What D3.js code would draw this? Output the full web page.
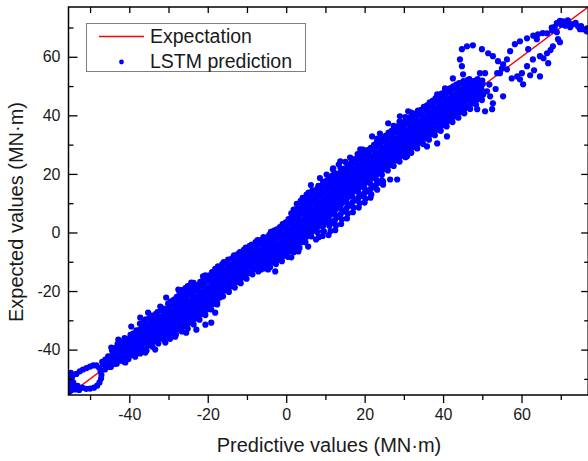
<!DOCTYPE html>
<html><head><meta charset="utf-8">
<script src="https://cdn.jsdelivr.net/npm/d3@7"></script>
<style>
html,body{margin:0;padding:0;background:#fff;}
svg text{font-family:"Liberation Sans",Arial,sans-serif;fill:#1a1a1a;}
</style></head>
<body>
<svg id="chart" width="588" height="461"></svg>
<script>
// ---- data ----
const xDomain = [-55.5, 77];
const yDomain = [-55.5, 77];
const xTickLabels = [-40, -20, 0, 20, 40, 60];
const yTickLabels = [-40, -20, 0, 20, 40, 60];
const minorTicks = [-50, -30, -10, 10, 30, 50, 70];
const expectationLine = [[-55.5, -55.5], [77, 77]];
const legendLabels = ["Expectation", "LSTM prediction"];
const xTitle = "Predictive values (MN·m)";
const yTitle = "Expected values (MN·m)";

// bottom-left loop
const loopLow = [[-55.3,-50.5],[-55.2,-52.2],[-55.0,-53.6],[-54.6,-49.4],[-54.3,-51.2],[-54.0,-52.8],[-53.5,-48.3],[-53.2,-52.4],[-52.6,-47.4],[-52.0,-53.0],[-51.8,-46.8],[-51.0,-53.4],[-50.9,-46.3],[-50.0,-45.8],[-50.0,-53.3],[-49.2,-45.4],[-49.0,-53.0],[-48.4,-45.4],[-48.2,-52.3],[-47.7,-46.2],[-47.6,-51.2],[-47.3,-47.5],[-47.2,-49.9],[-47.1,-48.7],[-55.4,-54.5],[-54.8,-53.9],[-53.8,-53.6],[-52.8,-53.8],[-55.1,-48.6],[-54.9,-47.9],[-46.6,-45.0],[-46.9,-44.2]];

// dense band, negative side
const bandLow = [
[-46.2,-46.8],[-45.8,-45.1],[-46.1,-43.4],
[-44.7,-45.9],[-44.3,-44.0],[-44.6,-42.2],[-44.4,-40.3],
[-43.2,-44.8],[-42.8,-43.1],[-43.1,-41.2],[-42.9,-39.6],[-43.0,-38.1],
[-41.4,-44.1],[-41.7,-42.3],[-41.3,-40.6],[-41.6,-38.9],[-41.5,-37.2],[-41.2,-36.1],
[-40.2,-43.2],[-39.8,-41.5],[-40.1,-39.6],[-39.9,-38.0],[-40.3,-36.4],[-39.7,-35.0],
[-38.6,-42.1],[-38.3,-40.2],[-38.7,-38.6],[-38.4,-36.9],[-38.5,-35.1],[-38.2,-33.4],
[-37.2,-41.3],[-36.8,-39.7],[-37.1,-37.8],[-36.9,-36.1],[-37.0,-34.3],[-36.7,-32.6],[-37.3,-31.2],
[-35.6,-40.3],[-35.3,-38.6],[-35.7,-36.9],[-35.4,-35.0],[-35.5,-33.3],[-35.2,-31.5],[-35.8,-29.7],
[-34.1,-39.0],[-33.8,-37.2],[-34.2,-35.5],[-33.9,-33.7],[-34.0,-32.0],[-33.7,-30.1],[-34.3,-28.4],
[-32.6,-37.9],[-32.3,-36.1],[-32.7,-34.4],[-32.4,-32.6],[-32.5,-30.9],[-32.2,-29.0],[-32.8,-27.2],
[-31.1,-36.8],[-30.8,-35.0],[-31.2,-33.2],[-30.9,-31.5],[-31.0,-29.6],[-30.7,-27.8],[-31.3,-26.0],
[-29.6,-36.3],[-29.3,-34.4],[-29.7,-32.6],[-29.4,-30.8],[-29.5,-29.0],[-29.2,-27.1],[-29.8,-25.3],[-29.4,-23.5],
[-28.1,-34.8],[-27.8,-33.0],[-28.2,-31.2],[-27.9,-29.4],[-28.0,-27.6],[-27.7,-25.7],[-28.3,-23.9],[-27.9,-22.0],
[-26.6,-33.8],[-26.3,-32.0],[-26.7,-30.1],[-26.4,-28.3],[-26.5,-26.5],[-26.2,-24.6],[-26.8,-22.8],[-26.4,-21.0],[-26.6,-19.7],
[-25.1,-32.8],[-24.8,-30.9],[-25.2,-29.1],[-24.9,-27.3],[-25.0,-25.4],[-24.7,-23.6],[-25.3,-21.8],[-24.9,-19.9],[-25.1,-18.3],
[-23.6,-31.4],[-23.3,-29.5],[-23.7,-27.7],[-23.4,-25.9],[-23.5,-24.0],[-23.2,-22.2],[-23.8,-20.4],[-23.4,-18.6],[-23.6,-17.2],
[-22.1,-29.8],[-21.8,-28.0],[-22.2,-26.1],[-21.9,-24.3],[-22.0,-22.5],[-21.7,-20.6],[-22.3,-18.8],[-21.9,-16.9],
[-20.6,-28.2],[-20.3,-26.4],[-20.7,-24.6],[-20.4,-22.7],[-20.5,-20.9],[-20.2,-19.1],[-20.8,-17.2],[-20.4,-15.4],[-20.6,-14.6],
[-19.1,-26.3],[-18.8,-24.5],[-19.2,-22.6],[-18.9,-20.8],[-19.0,-19.0],[-18.7,-17.1],[-19.3,-15.3],[-18.9,-13.5],
[-17.6,-23.8],[-17.3,-22.0],[-17.7,-20.1],[-17.4,-18.3],[-17.5,-16.5],[-17.2,-14.6],[-17.8,-12.8],[-17.4,-11.6],
[-16.1,-21.8],[-15.8,-19.9],[-16.2,-18.1],[-15.9,-16.3],[-16.0,-14.4],[-15.7,-12.6],[-16.3,-10.8],[-15.9,-10.1],
[-14.6,-20.3],[-14.3,-18.5],[-14.7,-16.6],[-14.4,-14.8],[-14.5,-13.0],[-14.2,-11.1],[-14.8,-9.3],
[-13.1,-18.8],[-12.8,-17.0],[-13.2,-15.1],[-12.9,-13.3],[-13.0,-11.5],[-12.7,-9.6],[-13.3,-7.8],
[-11.6,-17.3],[-11.3,-15.5],[-11.7,-13.6],[-11.4,-11.8],[-11.5,-10.0],[-11.2,-8.1],[-11.8,-6.7],
[-10.1,-15.8],[-9.8,-14.0],[-10.2,-12.1],[-9.9,-10.3],[-10.0,-8.5],[-9.7,-6.6],[-10.3,-5.2],
[-8.6,-14.3],[-8.3,-12.5],[-8.7,-10.6],[-8.4,-8.8],[-8.5,-7.0],[-8.2,-5.1],[-8.8,-4.1],
[-7.1,-13.3],[-6.8,-11.5],[-7.2,-9.6],[-6.9,-7.8],[-7.0,-6.0],[-6.7,-4.1],[-7.3,-2.6],
[-5.6,-12.3],[-5.3,-10.5],[-5.7,-8.6],[-5.4,-6.8],[-5.5,-5.0],[-5.2,-3.1],[-5.8,-1.6],
[-4.1,-11.8],[-3.8,-10.0],[-4.2,-8.1],[-3.9,-6.3],[-4.0,-4.5],[-3.7,-2.6],[-4.3,-0.8],[-3.9,0.2],
[-2.6,-10.8],[-2.3,-9.0],[-2.7,-7.1],[-2.4,-5.3],[-2.5,-3.5],[-2.2,-1.6],[-2.8,0.2],[-2.4,1.1],
[-1.1,-9.8],[-0.8,-8.0],[-1.2,-6.1],[-0.9,-4.3],[-1.0,-2.5],[-0.7,-0.6],[-1.3,1.2],[-0.9,2.9]
];

// dense band, positive side
const bandHigh = [
[0.4,-8.3],[0.7,-6.5],[0.3,-4.6],[0.6,-2.8],[0.5,-1.0],[0.8,0.9],[0.2,2.7],[0.6,4.6],
[1.9,-6.8],[2.2,-5.0],[1.8,-3.1],[2.1,-1.3],[2.0,0.5],[2.3,2.4],[1.7,4.2],[2.1,6.1],[1.9,7.8],
[3.4,-5.3],[3.7,-3.5],[3.3,-1.6],[3.6,0.2],[3.5,2.0],[3.8,3.9],[3.2,5.7],[3.6,7.6],[3.4,9.4],[3.7,10.8],
[4.9,-3.3],[5.2,-1.5],[4.8,0.4],[5.1,2.2],[5.0,4.0],[5.3,5.9],[4.7,7.7],[5.1,9.6],[4.9,11.4],[5.2,12.9],
[6.4,-1.3],[6.7,0.5],[6.3,2.4],[6.6,4.2],[6.5,6.0],[6.8,7.9],[6.2,9.7],[6.6,11.6],[6.4,13.4],[6.7,14.4],
[7.9,0.2],[8.2,2.0],[7.8,3.9],[8.1,5.7],[8.0,7.5],[8.3,9.4],[7.7,11.2],[8.1,13.1],[7.9,14.9],[8.2,15.9],
[9.4,2.2],[9.7,4.0],[9.3,5.9],[9.6,7.7],[9.5,9.5],[9.8,11.4],[9.2,13.2],[9.6,15.1],[9.4,17.3],
[10.9,4.2],[11.2,6.0],[10.8,7.9],[11.1,9.7],[11.0,11.5],[11.3,13.4],[10.7,15.2],[11.1,17.1],[10.9,18.8],
[12.4,6.2],[12.7,8.0],[12.3,9.9],[12.6,11.7],[12.5,13.5],[12.8,15.4],[12.2,17.2],[12.6,19.1],[12.4,20.3],
[13.9,8.2],[14.2,10.0],[13.8,11.9],[14.1,13.7],[14.0,15.5],[14.3,17.4],[13.7,19.2],[14.1,21.1],[13.9,21.9],
[15.4,10.2],[15.7,12.0],[15.3,13.9],[15.6,15.7],[15.5,17.5],[15.8,19.4],[15.2,21.2],[15.6,22.4],
[16.9,12.2],[17.2,14.0],[16.8,15.9],[17.1,17.7],[17.0,19.5],[17.3,21.4],[16.7,23.2],[17.1,24.0],
[18.4,13.7],[18.7,15.5],[18.3,17.4],[18.6,19.2],[18.5,21.0],[18.8,22.9],[18.2,24.7],[18.6,25.9],
[19.9,15.2],[20.2,17.0],[19.8,18.9],[20.1,20.7],[20.0,22.5],[20.3,24.4],[19.7,26.2],[20.1,27.0],
[21.4,16.7],[21.7,18.5],[21.3,20.4],[21.6,22.2],[21.5,24.0],[21.8,25.9],[21.2,27.7],[21.6,28.9],
[22.9,18.2],[23.2,20.0],[22.8,21.9],[23.1,23.7],[23.0,25.5],[23.3,27.4],[22.7,29.2],[23.1,30.9],
[24.4,19.7],[24.7,21.5],[24.3,23.4],[24.6,25.2],[24.5,27.0],[24.8,28.9],[24.2,30.7],[24.6,32.4],
[25.9,21.2],[26.2,23.0],[25.8,24.9],[26.1,26.7],[26.0,28.5],[26.3,30.4],[25.7,32.2],[26.1,34.1],
[27.4,22.7],[27.7,24.5],[27.3,26.4],[27.6,28.2],[27.5,30.0],[27.8,31.9],[27.2,33.7],[27.6,35.6],[27.4,36.4],
[28.9,24.2],[29.2,26.0],[28.8,27.9],[29.1,29.7],[29.0,31.5],[29.3,33.4],[28.7,35.2],[29.1,37.1],[28.9,37.9],
[30.4,25.7],[30.7,27.5],[30.3,29.4],[30.6,31.2],[30.5,33.0],[30.8,34.9],[30.2,36.7],[30.6,38.6],[30.4,39.4],
[31.9,27.2],[32.2,29.0],[31.8,30.9],[32.1,32.7],[32.0,34.5],[32.3,36.4],[31.7,38.2],[32.1,40.1],[31.9,40.9],
[33.4,28.7],[33.7,30.5],[33.3,32.4],[33.6,34.2],[33.5,36.0],[33.8,37.9],[33.2,39.7],[33.6,41.6],
[34.9,30.2],[35.2,32.0],[34.8,33.9],[35.1,35.7],[35.0,37.5],[35.3,39.4],[34.7,41.2],[35.1,42.9],
[36.4,31.7],[36.7,33.5],[36.3,35.4],[36.6,37.2],[36.5,39.0],[36.8,40.9],[36.2,42.7],[36.6,44.4],
[37.9,33.2],[38.2,35.0],[37.8,36.9],[38.1,38.7],[38.0,40.5],[38.3,42.4],[37.7,44.2],[38.1,45.9],
[39.4,34.7],[39.7,36.5],[39.3,38.4],[39.6,40.2],[39.5,42.0],[39.8,43.9],[39.2,45.7],[39.6,47.4],
[40.9,36.2],[41.2,38.0],[40.8,39.9],[41.1,41.7],[41.0,43.5],[41.3,45.4],[40.7,47.2],[41.1,48.9],
[42.4,37.7],[42.7,39.5],[42.3,41.4],[42.6,43.2],[42.5,45.0],[42.8,46.9],[42.2,48.7],[42.6,49.9],
[43.9,39.2],[44.2,41.0],[43.8,42.9],[44.1,44.7],[44.0,46.5],[44.3,48.4],[43.7,50.2],[44.1,51.0],
[45.4,40.7],[45.7,42.5],[45.3,44.4],[45.6,46.2],[45.5,48.0],[45.8,49.9],[45.2,51.7],
[46.9,42.2],[47.2,44.0],[46.8,45.9],[47.1,47.7],[47.0,49.5],[47.3,51.4],[46.7,52.4],
[48.4,43.7],[48.7,45.5],[48.3,47.4],[48.6,49.2],[48.5,51.0],[48.8,52.4],
[49.9,45.2],[50.2,47.0],[49.8,48.9],[50.1,50.7],[50.0,51.9]
];

// in-between points of the dense core
const bandFill = [
[-45.3,-45.9],[-45.1,-44.0],[-45.4,-42.3],
[-43.8,-44.9],[-43.6,-43.0],[-43.9,-41.2],[-43.7,-39.5],
[-42.2,-43.8],[-42.4,-42.0],[-42.1,-40.1],[-42.3,-38.3],
[-40.8,-42.6],[-40.6,-40.7],[-40.9,-38.9],[-40.7,-37.0],
[-39.3,-41.8],[-39.1,-40.0],[-39.4,-38.1],[-39.2,-36.3],[-39.0,-34.5],
[-37.8,-40.6],[-37.6,-38.8],[-37.9,-37.0],[-37.7,-35.1],[-37.5,-33.3],
[-36.3,-40.0],[-36.1,-37.9],[-36.4,-36.0],[-36.2,-34.2],[-36.0,-32.3],[-36.3,-30.6],
[-34.8,-38.3],[-34.6,-36.5],[-34.9,-34.6],[-34.7,-32.8],[-34.5,-31.0],[-34.8,-29.2],
[-33.3,-37.0],[-33.1,-35.2],[-33.4,-33.4],[-33.2,-31.6],[-33.0,-29.7],[-33.3,-27.9],
[-31.8,-35.9],[-31.6,-34.0],[-31.9,-32.1],[-31.7,-30.3],[-31.5,-28.5],[-31.8,-26.6],
[-30.3,-35.2],[-30.1,-33.4],[-30.4,-31.6],[-30.2,-29.7],[-30.0,-27.9],[-30.3,-26.0],[-30.1,-24.3],
[-28.8,-33.9],[-28.6,-32.1],[-28.9,-30.3],[-28.7,-28.4],[-28.5,-26.6],[-28.8,-24.8],[-28.6,-22.9],
[-27.3,-32.9],[-27.1,-31.1],[-27.4,-29.2],[-27.2,-27.4],[-27.0,-25.5],[-27.3,-23.7],[-27.1,-21.9],[-27.2,-20.3],
[-25.8,-31.9],[-25.6,-30.0],[-25.9,-28.2],[-25.7,-26.4],[-25.5,-24.5],[-25.8,-22.7],[-25.6,-20.9],[-25.7,-19.0],
[-24.3,-30.4],[-24.1,-28.6],[-24.4,-26.8],[-24.2,-24.9],[-24.0,-23.1],[-24.3,-21.3],[-24.1,-19.4],[-24.2,-17.8],
[-22.8,-29.0],[-22.6,-27.1],[-22.9,-25.3],[-22.7,-23.5],[-22.5,-21.6],[-22.8,-19.8],[-22.6,-18.0],
[-21.3,-27.3],[-21.1,-25.5],[-21.4,-23.7],[-21.2,-21.8],[-21.0,-20.0],[-21.3,-18.2],[-21.1,-16.3],[-21.2,-15.0],
[-19.8,-25.6],[-19.6,-23.8],[-19.9,-21.9],[-19.7,-20.1],[-19.5,-18.3],[-19.8,-16.4],[-19.6,-14.6],
[-18.3,-23.4],[-18.1,-21.5],[-18.4,-19.7],[-18.2,-17.9],[-18.0,-16.0],[-18.3,-14.2],[-18.1,-12.4],
[-16.8,-21.1],[-16.6,-19.2],[-16.9,-17.4],[-16.7,-15.6],[-16.5,-13.7],[-16.8,-11.9],
[-15.3,-19.6],[-15.1,-17.7],[-15.4,-15.9],[-15.2,-14.1],[-15.0,-12.2],[-15.3,-10.4],
[-13.8,-18.0],[-13.6,-16.1],[-13.9,-14.3],[-13.7,-12.5],[-13.5,-10.6],[-13.8,-8.8],
[-12.3,-16.6],[-12.1,-14.7],[-12.4,-12.9],[-12.2,-11.1],[-12.0,-9.2],[-12.3,-7.4],
[-10.8,-15.0],[-10.6,-13.1],[-10.9,-11.3],[-10.7,-9.5],[-10.5,-7.6],[-10.8,-5.9],
[-9.3,-13.6],[-9.1,-11.7],[-9.4,-9.9],[-9.2,-8.1],[-9.0,-6.2],[-9.3,-4.6],
[-7.8,-12.4],[-7.6,-10.5],[-7.9,-8.7],[-7.7,-6.9],[-7.5,-5.0],[-7.8,-3.3],
[-6.3,-11.7],[-6.1,-9.8],[-6.4,-8.0],[-6.2,-6.2],[-6.0,-4.3],[-6.3,-2.5],
[-4.8,-10.9],[-4.6,-9.0],[-4.9,-7.2],[-4.7,-5.4],[-4.5,-3.5],[-4.8,-1.7],
[-3.3,-10.1],[-3.1,-8.2],[-3.4,-6.4],[-3.2,-4.6],[-3.0,-2.7],[-3.3,-0.9],[-3.1,0.6],
[-1.8,-9.2],[-1.6,-7.3],[-1.9,-5.5],[-1.7,-3.7],[-1.5,-1.8],[-1.8,0.0],[-1.6,1.8],
[-0.3,-7.6],[-0.1,-5.7],[-0.4,-3.9],[-0.2,-2.1],[0.0,-0.2],[-0.3,1.6],[-0.1,3.5],
[1.2,-6.2],[1.4,-4.3],[1.1,-2.5],[1.3,-0.7],[1.5,1.2],[1.2,3.0],[1.4,4.8],[1.3,6.5],
[2.7,-4.6],[2.9,-2.7],[2.6,-0.9],[2.8,0.9],[3.0,2.8],[2.7,4.6],[2.9,6.4],[2.8,8.3],[2.7,9.8],
[4.2,-2.8],[4.4,-0.9],[4.1,0.9],[4.3,2.7],[4.5,4.6],[4.2,6.4],[4.4,8.2],[4.3,10.1],[4.2,11.8],
[5.7,-0.8],[5.9,1.1],[5.6,2.9],[5.8,4.7],[6.0,6.6],[5.7,8.4],[5.9,10.2],[5.8,12.1],[5.7,13.6],
[7.2,1.2],[7.4,3.1],[7.1,4.9],[7.3,6.7],[7.5,8.6],[7.2,10.4],[7.4,12.2],[7.3,14.1],
[8.7,3.0],[8.9,4.9],[8.6,6.7],[8.8,8.5],[9.0,10.4],[8.7,12.2],[8.9,14.0],[8.8,15.9],
[10.2,5.1],[10.4,7.0],[10.1,8.8],[10.3,10.6],[10.5,12.5],[10.2,14.3],[10.4,16.1],[10.3,17.6],
[11.7,7.0],[11.9,8.9],[11.6,10.7],[11.8,12.5],[12.0,14.4],[11.7,16.2],[11.9,18.0],[11.8,19.5],
[13.2,9.1],[13.4,11.0],[13.1,12.8],[13.3,14.6],[13.5,16.5],[13.2,18.3],[13.4,20.1],
[14.7,11.0],[14.9,12.9],[14.6,14.7],[14.8,16.5],[15.0,18.4],[14.7,20.2],[14.9,21.8],
[16.2,13.0],[16.4,14.9],[16.1,16.7],[16.3,18.5],[16.5,20.4],[16.2,22.2],[16.4,23.4],
[17.7,14.6],[17.9,16.5],[17.6,18.3],[17.8,20.1],[18.0,22.0],[17.7,23.8],[17.9,25.2],
[19.2,16.1],[19.4,18.0],[19.1,19.8],[19.3,21.6],[19.5,23.5],[19.2,25.3],[19.4,26.6],
[20.7,17.6],[20.9,19.5],[20.6,21.3],[20.8,23.1],[21.0,25.0],[20.7,26.8],[20.9,28.2],
[22.2,19.1],[22.4,21.0],[22.1,22.8],[22.3,24.6],[22.5,26.5],[22.2,28.3],[22.4,29.9],
[23.7,20.6],[23.9,22.5],[23.6,24.3],[23.8,26.1],[24.0,28.0],[23.7,29.8],[23.9,31.4],
[25.2,22.1],[25.4,24.0],[25.1,25.8],[25.3,27.6],[25.5,29.5],[25.2,31.3],[25.4,33.1],
[26.7,23.6],[26.9,25.5],[26.6,27.3],[26.8,29.1],[27.0,31.0],[26.7,32.8],[26.9,34.7],
[28.2,25.1],[28.4,27.0],[28.1,28.8],[28.3,30.6],[28.5,32.5],[28.2,34.3],[28.4,36.2],
[29.7,26.6],[29.9,28.5],[29.6,30.3],[29.8,32.1],[30.0,34.0],[29.7,35.8],[29.9,37.7],
[31.2,28.1],[31.4,30.0],[31.1,31.8],[31.3,33.6],[31.5,35.5],[31.2,37.3],[31.4,39.2],
[32.7,29.6],[32.9,31.5],[32.6,33.3],[32.8,35.1],[33.0,37.0],[32.7,38.8],[32.9,40.6],
[34.2,31.1],[34.4,33.0],[34.1,34.8],[34.3,36.6],[34.5,38.5],[34.2,40.3],[34.4,41.9],
[35.7,32.6],[35.9,34.5],[35.6,36.3],[35.8,38.1],[36.0,40.0],[35.7,41.8],[35.9,43.4],
[37.2,34.1],[37.4,36.0],[37.1,37.8],[37.3,39.6],[37.5,41.5],[37.2,43.3],[37.4,45.0],
[38.7,35.6],[38.9,37.5],[38.6,39.3],[38.8,41.1],[39.0,43.0],[38.7,44.8],[38.9,46.5],
[40.2,37.1],[40.4,39.0],[40.1,40.8],[40.3,42.6],[40.5,44.5],[40.2,46.3],[40.4,47.9],
[41.7,38.6],[41.9,40.5],[41.6,42.3],[41.8,44.1],[42.0,46.0],[41.7,47.8],[41.9,49.3],
[43.2,40.1],[43.4,42.0],[43.1,43.8],[43.3,45.6],[43.5,47.5],[43.2,49.3],[43.4,50.5],
[44.7,41.6],[44.9,43.5],[44.6,45.3],[44.8,47.1],[45.0,49.0],[44.7,50.8],
[46.2,43.1],[46.4,45.0],[46.1,46.8],[46.3,48.6],[46.5,50.5],[46.2,52.0],
[47.7,44.6],[47.9,46.5],[47.6,48.3],[47.8,50.1],[48.0,51.8],
[49.2,46.1],[49.4,48.0],[49.1,49.8],[49.3,51.5]
];

// band edges between x = 6 and 25 (wider there)
const bandEdges = [
[8.3,-1.6],[9.6,0.4],[9.3,-1.2],[11.0,2.3],[11.3,0.5],[10.8,-0.9],[12.4,4.2],[12.7,2.4],[12.5,0.8],
[13.9,6.3],[14.2,4.5],[14.0,2.9],[15.4,8.3],[15.7,6.5],[15.5,4.8],[16.9,10.3],[17.2,8.5],[17.0,6.9],
[18.4,11.8],[18.7,10.0],[18.5,8.5],[19.9,13.3],[20.2,11.5],[20.0,10.2],[21.4,14.7],[21.7,13.0],[21.5,11.9],
[22.9,16.3],[23.2,14.6],[24.4,17.8],[24.7,16.3],
[11.7,3.2],[13.2,5.3],[14.7,7.2],[16.2,9.2],[17.7,11.0],[19.2,12.5],[20.7,14.0],[22.2,15.4],[23.7,17.0],
[6.3,16.2],[8.6,18.6],[10.3,19.8],[11.9,21.6],[13.4,23.2],[15.1,24.1],[16.6,25.2],[18.2,26.8],[19.6,28.3]
];

// sparse points around the band
const sparsePoints = [
[-44.6,-39.3],[-42.8,-36.6],[-39.5,-32.1],[-37.2,-29.1],[-35.2,-27.4],[-32.1,-25.3],[-30.6,-22.2],[-27.5,-19.5],[-24.2,-17.1],
[-41.0,-44.4],[-38.5,-42.4],[-35.9,-41.0],[-33.4,-40.0],[-30.8,-37.6],[-28.3,-35.6],
[-25.5,-34.2],[-22.9,-33.2],[-20.6,-31.5],[-19.1,-30.8],[-18.1,-27.4],[-17.6,-24.6],[-16.9,-22.2],
[-6.4,-12.6],[-4.6,-12.6],[-2.8,-13.3],[-1.3,-9.2],[1.3,-8.5],[3.1,-6.5],[5.6,-4.8],[7.6,-2.4],[9.4,0.3],[10.2,3.4],
[12.0,21.9],[13.8,24.3],[16.3,25.6],[18.9,28.4],
[21.9,32.8],[23.2,32.1],[23.9,33.8],[26.0,37.3],[29.0,39.7],[31.1,41.4],[38.5,47.2],[40.5,49.2],[42.5,52.6],
[24.7,17.4],[26.5,18.1],[28.3,18.1],[30.8,26.0],[35.9,29.4],[38.5,30.4],[41.0,32.8]
];

// upper-right loops
const loopHigh = [
[44.3,59.1],[44.8,62.6],[46.1,63.6],[47.6,63.9],[49.9,62.6],[51.5,61.2],[52.7,60.2],[54.0,58.5],[55.3,57.4],[56.3,59.1],[57.1,61.9],[58.3,64.3],[59.6,65.3],[61.4,66.3],[64.2,67.7],[66.5,68.0],[69.0,71.5],[70.6,72.1],[73.1,71.1],[75.7,69.4],[76.7,69.7],
[44.8,56.8],[45.1,54.0],[49.4,54.4],[50.7,54.4],
[54.5,54.4],[56.3,55.7],[58.9,53.3],[60.1,54.4],[61.4,56.8],[62.9,59.1],[64.7,60.2],[66.5,61.2],[68.0,63.6],[69.3,66.0],[59.6,52.3],[60.4,50.6],[64.7,53.3],[66.8,57.8],[55.3,46.5],[52.5,42.1],[50.7,41.4],[47.6,49.2],[51.2,48.2],[52.7,44.1],[48.7,42.1],
[68.5,70.2],[69.8,72.3],[71.8,72.4],[72.4,71.2],[74.4,70.4],[71.2,70.6],[67.8,69.0],[72.4,70.1],[74.9,69.4],[76.6,68.7],[69.0,68.4],[69.8,65.0],
[63.9,66.0],[61.7,62.6],[53.8,54.4],[55.0,56.0],[51.8,50.5],[53.4,49.0],[52.0,46.5],
[63.0,67.2],[65.4,68.1],[67.7,70.0],[70.1,70.9],[73.8,71.6],[75.2,70.5],[57.5,52.6],[62.2,53.7],[63.2,55.4],[65.6,59.5],[67.4,62.3]
];

// ---- chart ----
const svg = d3.select("#chart");
const x = d3.scaleLinear().domain(xDomain).range([68.5, 588.2]);
const y = d3.scaleLinear().domain(yDomain).range([395, 7]);

svg.append("defs").append("clipPath").attr("id","plotclip")
  .append("rect").attr("x", x(xDomain[0])).attr("y", y(yDomain[1]))
  .attr("width", x(xDomain[1]) - x(xDomain[0])).attr("height", y(yDomain[0]) - y(yDomain[1]));

const plot = svg.append("g").attr("clip-path","url(#plotclip)");

plot.append("path")
  .datum(expectationLine)
  .attr("d", d3.line().x(d => x(d[0])).y(d => y(d[1])))
  .attr("stroke", "#ff0000").attr("stroke-width", 1.5).attr("fill","none");

const allPoints = [].concat(loopLow, bandLow, bandFill, bandHigh, bandEdges, sparsePoints, loopHigh);
plot.selectAll("circle.pt").data(allPoints).enter().append("circle")
  .attr("class","pt")
  .attr("cx", d => x(d[0])).attr("cy", d => y(d[1]))
  .attr("r", 3.1).attr("fill", "#0000ff");

// axes
const fmt = d => String(d);
function styleAxis(g){
  g.select(".domain").remove();
  g.selectAll(".tick line").attr("stroke","#000").attr("stroke-width",1.3);
  g.selectAll(".tick text").attr("font-size","16px").attr("fill","#1a1a1a")
    .style("font-family","'Liberation Sans', Arial, sans-serif");
}
const yB = y(yDomain[0]), yT = y(yDomain[1]), xL = x(xDomain[0]), xR = x(xDomain[1]);

svg.append("g").attr("transform",`translate(0,${yB})`)
  .call(d3.axisBottom(x).tickValues(xTickLabels).tickSize(8).tickSizeOuter(0).tickPadding(6).tickFormat(fmt))
  .call(styleAxis);
svg.append("g").attr("transform",`translate(0,${yB})`)
  .call(d3.axisBottom(x).tickValues(minorTicks).tickSize(5).tickSizeOuter(0).tickFormat(""))
  .call(styleAxis);
svg.append("g").attr("transform",`translate(${xL},0)`)
  .call(d3.axisLeft(y).tickValues(yTickLabels).tickSize(-9).tickSizeOuter(0).tickPadding(8).tickFormat(fmt))
  .call(styleAxis);
svg.append("g").attr("transform",`translate(${xL},0)`)
  .call(d3.axisLeft(y).tickValues(minorTicks).tickSize(-5).tickSizeOuter(0).tickFormat(""))
  .call(styleAxis);
svg.append("g").attr("transform",`translate(0,${yT})`)
  .call(d3.axisTop(x).tickValues(xTickLabels.concat(minorTicks)).tickSize(-6).tickSizeOuter(0).tickFormat(""))
  .call(styleAxis);
svg.append("g").attr("transform",`translate(${xR},0)`)
  .call(d3.axisRight(y).tickValues(yTickLabels).tickSize(-7).tickSizeOuter(0).tickFormat(""))
  .call(styleAxis);
svg.append("g").attr("transform",`translate(${xR},0)`)
  .call(d3.axisRight(y).tickValues(minorTicks).tickSize(-4).tickSizeOuter(0).tickFormat(""))
  .call(styleAxis);

// frame
svg.append("rect").attr("x", xL).attr("y", yT).attr("width", xR - xL).attr("height", yB - yT)
  .attr("fill","none").attr("stroke","#000").attr("stroke-width",1.5);

// titles
svg.append("text").attr("x", 329).attr("y", 452).attr("text-anchor","middle")
  .attr("font-size","20px").text(xTitle);
svg.append("text").attr("transform","translate(22.5,212) rotate(-90)").attr("text-anchor","middle")
  .attr("font-size","20px").text(yTitle);

// legend
const lg = svg.append("g");
lg.append("rect").attr("x",86.5).attr("y",23.5).attr("width",219).attr("height",48)
  .attr("fill","#fff").attr("stroke","#7f7f7f").attr("stroke-width",1);
lg.append("line").attr("x1",99).attr("x2",144).attr("y1",36.5).attr("y2",36.5)
  .attr("stroke","#ff0000").attr("stroke-width",1.5);
lg.append("circle").attr("cx",121.5).attr("cy",62).attr("r",2.4).attr("fill","#0000ff");
lg.append("text").attr("x",150).attr("y",43).attr("font-size","19.5px").text(legendLabels[0]);
lg.append("text").attr("x",150).attr("y",68).attr("font-size","19.5px").text(legendLabels[1]);
</script>
</body></html>
